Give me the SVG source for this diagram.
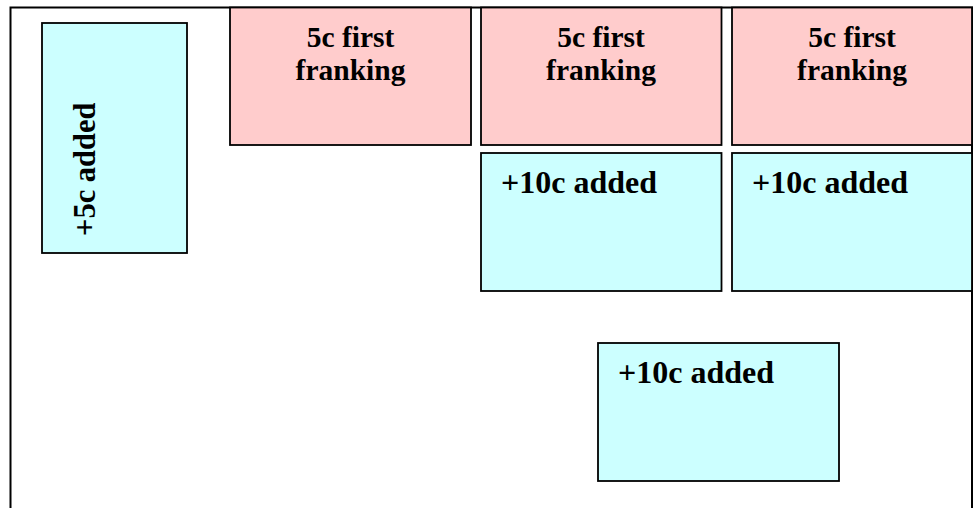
<svg xmlns="http://www.w3.org/2000/svg" width="979" height="508" viewBox="0 0 979 508">
<style>
.frame{fill:none;stroke:#000;stroke-width:2}
.pink{fill:#FFCCCC;stroke:#000;stroke-width:1.8}
.cyan{fill:#CCFFFF;stroke:#000;stroke-width:1.8}
.t{font-family:"Liberation Serif","Times New Roman",serif;font-weight:bold;fill:#000}
.tp{font-size:29.5px;text-anchor:middle}
.tc{font-size:32px}
</style>
<rect width="979" height="508" fill="#fff"/>
<rect class="frame" x="10.5" y="7.5" width="961.5" height="520"/>
<g id="left-5c">
<rect class="cyan" x="42" y="23" width="145" height="230"/>
<text class="t tc" transform="translate(95,236) rotate(-90)" style="font-size:30.5px">+5c added</text>
</g>
<g id="pink-1">
<rect class="pink" x="230" y="7.5" width="241" height="137.5"/>
<text class="t tp" x="350.5" y="47">5c first</text>
<text class="t tp" x="350.5" y="80">franking</text>
</g>
<g id="pink-2">
<rect class="pink" x="481" y="7.5" width="240.5" height="137.5"/>
<text class="t tp" x="601" y="47">5c first</text>
<text class="t tp" x="601" y="80">franking</text>
</g>
<g id="pink-3">
<rect class="pink" x="732" y="7.5" width="240" height="137.5"/>
<text class="t tp" x="852" y="47">5c first</text>
<text class="t tp" x="852" y="80">franking</text>
</g>
<g id="cyan-1">
<rect class="cyan" x="481" y="153" width="240.5" height="138"/>
<text class="t tc" x="501" y="193">+10c added</text>
</g>
<g id="cyan-2">
<rect class="cyan" x="732" y="153" width="240" height="138"/>
<text class="t tc" x="752" y="193">+10c added</text>
</g>
<g id="cyan-3">
<rect class="cyan" x="598" y="343" width="241" height="138"/>
<text class="t tc" x="618" y="383">+10c added</text>
</g>
<g id="connectors"></g>
</svg>
